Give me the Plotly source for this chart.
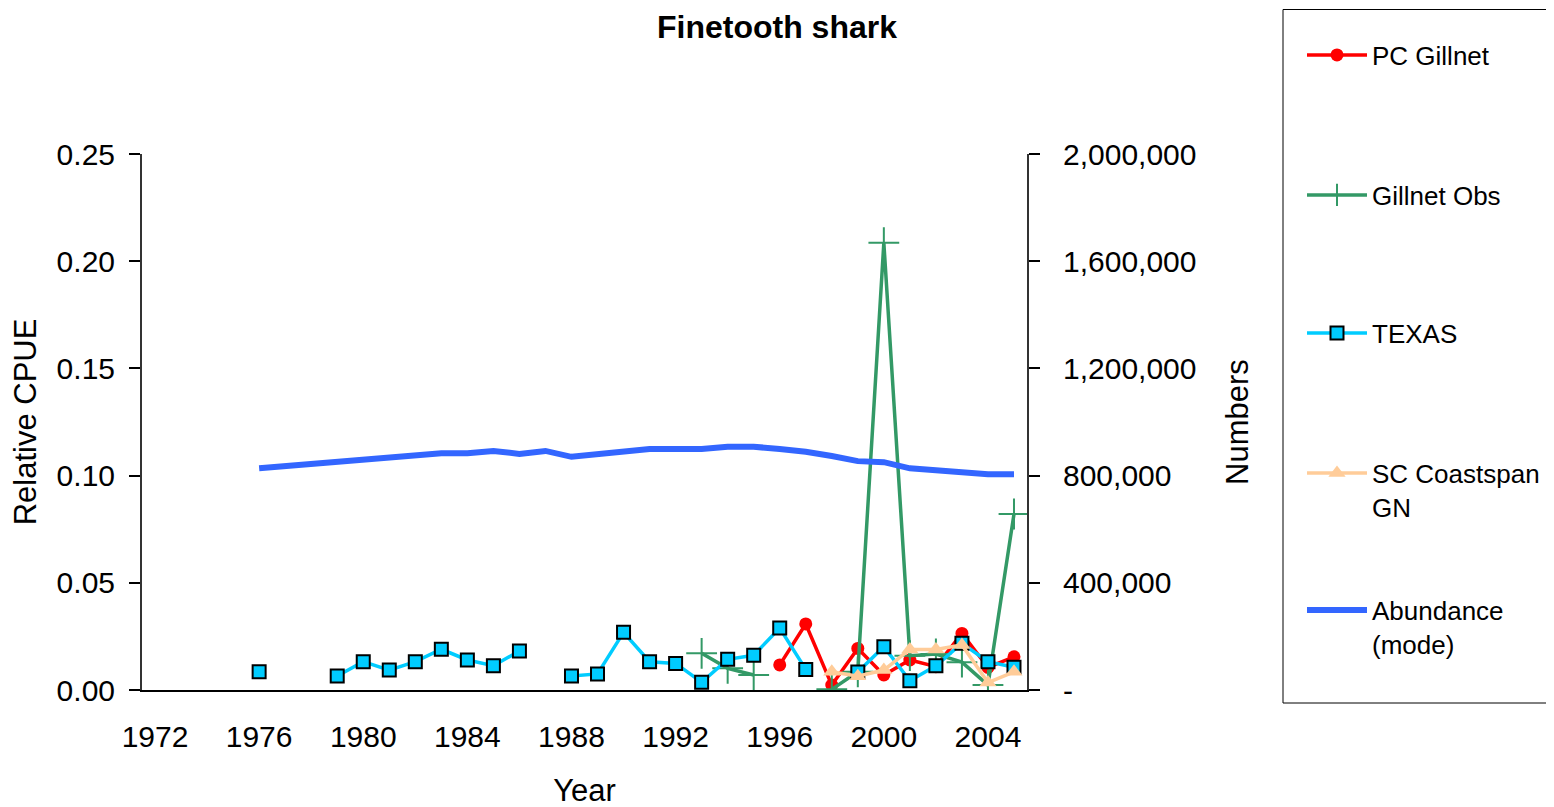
import plotly.graph_objects as go

# ---------------- data ----------------
years = list(range(1972, 2006))
label_years = [1972, 1976, 1980, 1984, 1988, 1992, 1996, 2000, 2004]
boundaries = [y - 0.5 for y in range(1972, 2007)]

pc_gillnet_years = [1996, 1997, 1998, 1999, 2000, 2001, 2002, 2003, 2004, 2005]
pc_gillnet = [0.0117, 0.0308, 0.0023, 0.0194, 0.0070, 0.0140, 0.0109, 0.0264, 0.0105, 0.0155]

gillnet_obs_years = [1993, 1994, 1995, 1996, 1997, 1998, 1999, 2000, 2001, 2002, 2003, 2004, 2005]
gillnet_obs = [0.0171, 0.0101, 0.0070, None, None, 0.0003, 0.0085, 0.2086, 0.0160, 0.0168, 0.0130, 0.0023, 0.0821]

texas_years = [1976, 1977, 1978, 1979, 1980, 1981, 1982, 1983, 1984, 1985, 1986, 1987,
               1988, 1989, 1990, 1991, 1992, 1993, 1994, 1995, 1996, 1997, 1998,
               1999, 2000, 2001, 2002, 2003, 2004, 2005]
texas = [0.0085, None, None, 0.0065, 0.0132, 0.0093, 0.0132, 0.0190, 0.0140, 0.0113, 0.0182, None,
         0.0065, 0.0075, 0.0269, 0.0132, 0.0124, 0.0036, 0.0143, 0.0162, 0.0289, 0.0096, None,
         0.0084, 0.0202, 0.0043, 0.0113, 0.0218, 0.0132, 0.0106]

sc_years = [1998, 1999, 2000, 2001, 2002, 2003, 2004, 2005]
sc_coastspan = [0.0085, 0.0064, 0.0093, 0.0189, 0.0189, 0.0210, 0.0035, 0.0085]

abund_years = list(range(1976, 2006))
abundance = [827000, 835000, 843000, 851000, 859000, 867000, 875000, 883000, 883000, 892000,
             881000, 892000, 870000, 880000, 890000, 899000, 899000, 899000, 908000, 908000,
             899000, 889000, 873000, 854000, 850000, 827000, 820000, 812000, 805000, 805000]

cpue_ticks = [0, 0.05, 0.10, 0.15, 0.20, 0.25]
num_ticks = [0, 400000, 800000, 1200000, 1600000, 2000000]
num_ticktext = ["-", "400,000", "800,000", "1,200,000", "1,600,000", "2,000,000"]

FONT = "Liberation Sans, Arial, sans-serif"

# page body has an 8px default margin; compensate so the plot lands where intended
OFF = 8
L, T, PW, PH = 142 - OFF, 154 - OFF, 885, 536
W, H = 1554, 807

fig = go.Figure()
fig.add_trace(go.Scatter(
    x=pc_gillnet_years, y=pc_gillnet, name="PC Gillnet", mode="lines+markers",
    line=dict(color="#FF0000", width=3.5),
    marker=dict(symbol="circle", size=13, color="#FF0000"),
    legend="legend"))
fig.add_trace(go.Scatter(
    x=gillnet_obs_years, y=gillnet_obs, name="Gillnet Obs", mode="lines+markers",
    line=dict(color="#339966", width=3.5),
    marker=dict(symbol="cross-thin", size=22, line=dict(color="#339966", width=2)),
    connectgaps=False, legend="legend2"))
fig.add_trace(go.Scatter(
    x=texas_years, y=texas, name="TEXAS", mode="lines+markers",
    line=dict(color="#00CCFF", width=3.5),
    marker=dict(symbol="square", size=13, color="#00CCFF", line=dict(color="#000000", width=2)),
    connectgaps=False, legend="legend3"))
fig.add_trace(go.Scatter(
    x=sc_years, y=sc_coastspan, name="SC Coastspan<br>GN", mode="lines+markers",
    line=dict(color="#FFCC99", width=3.5),
    marker=dict(symbol="triangle-up", size=15, color="#FFCC99"),
    legend="legend4"))
fig.add_trace(go.Scatter(
    x=abund_years, y=abundance, name="Abundance<br>(mode)", mode="lines",
    line=dict(color="#3366FF", width=6),
    yaxis="y2", legend="legend5"))

tick_common = dict(showgrid=False, zeroline=False, automargin=False)


def legend_at(ypx):
    return dict(
        x=(1302 - 142) / PW, y=(690 - ypx) / PH, xanchor="left", yanchor="middle",
        bgcolor="rgba(0,0,0,0)", borderwidth=0, font=dict(family=FONT, size=26, color="black"),
        valign="top", itemwidth=60)


fig.update_layout(
    width=W, height=H,
    margin=dict(l=L, r=W - L - PW, t=T, b=H - T - PH, pad=0, autoexpand=False),
    plot_bgcolor="white", paper_bgcolor="white",
    font=dict(family=FONT, color="black"),
    title=dict(text="<b>Finetooth shark</b>", x=(777 - OFF) / W, xanchor="center",
               y=1 - (27 - OFF) / H, yanchor="middle", font=dict(size=32, family=FONT)),
    xaxis=dict(range=[1971.5, 2005.5], tickvals=label_years, ticktext=[str(y) for y in label_years],
               ticks="", showline=True, linecolor="#000000", linewidth=2,
               tickfont=dict(size=30), ticklabelstandoff=19,
               title=dict(text="Year", font=dict(size=31), standoff=27), **tick_common),
    xaxis2=dict(overlaying="x", anchor="y", side="bottom", range=[1971.5, 2005.5],
                tickvals=boundaries, ticks="outside", ticklen=10, tickwidth=1.5, tickcolor="#000",
                showticklabels=False, showline=False, **tick_common),
    xaxis3=dict(overlaying="x", anchor="y", side="bottom", range=[1971.5, 2005.5],
                tickvals=boundaries, ticks="inside", ticklen=10, tickwidth=1.5, tickcolor="#000",
                showticklabels=False, showline=False, **tick_common),
    xaxis4=dict(overlaying="x", anchor="y", side="top", range=[1971.5, 2005.5],
                showline=True, linecolor="#999999", linewidth=2, ticks="",
                showticklabels=False, **tick_common),
    yaxis=dict(range=[0, 0.25], tickvals=cpue_ticks, ticktext=[f"{v:.2f}" for v in cpue_ticks],
               ticks="outside", ticklen=11, tickwidth=1.5, tickcolor="#000",
               showline=True, linecolor="#333333", linewidth=2,
               tickfont=dict(size=30), ticklabelstandoff=8,
               title=dict(text="Relative CPUE", font=dict(size=31), standoff=11), **tick_common),
    yaxis3=dict(overlaying="y", anchor="x", side="left", range=[0, 0.25], tickvals=cpue_ticks,
                ticks="inside", ticklen=10, tickwidth=1.5, tickcolor="#000",
                showticklabels=False, showline=False, **tick_common),
    yaxis2=dict(overlaying="y", anchor="x", side="right", range=[0, 2000000],
                tickvals=num_ticks, ticktext=num_ticktext,
                ticks="outside", ticklen=11, tickwidth=1.5, tickcolor="#000",
                showline=True, linecolor="#333333", linewidth=2,
                tickfont=dict(size=30), ticklabelstandoff=17,
                title=dict(text="Numbers", font=dict(size=31), standoff=31), **tick_common),
    yaxis4=dict(overlaying="y", anchor="x", side="right", range=[0, 2000000], tickvals=num_ticks,
                ticks="inside", ticklen=10, tickwidth=1.5, tickcolor="#000",
                showticklabels=False, showline=False, **tick_common),
    legend=legend_at(55),
    legend2=legend_at(195),
    legend3=legend_at(333),
    legend4=legend_at(490),
    legend5=legend_at(627),
    shapes=[dict(type="rect", xref="paper", yref="paper",
                 x0=(1283 - 142) / PW, x1=(1620 - 142) / PW,
                 y0=(690 - 703) / PH, y1=(690 - 9.5) / PH,
                 line=dict(color="#000000", width=1), fillcolor="rgba(0,0,0,0)", layer="below")],
    showlegend=True,
)

fig.write_html("out.html")
